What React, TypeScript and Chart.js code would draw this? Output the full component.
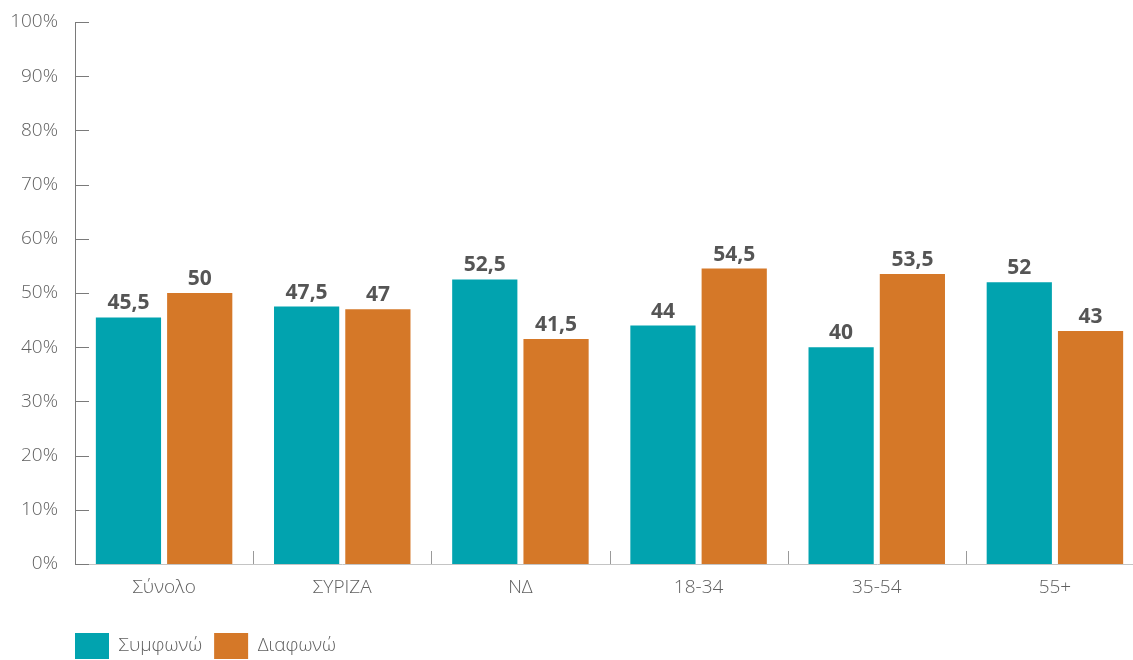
import React, { useEffect, useRef } from "react";
import { Chart, registerables } from "chart.js";

Chart.register(...registerables);

const categories = ["Σύνολο", "ΣΥΡΙΖΑ", "ΝΔ", "18-34", "35-54", "55+"];
const agreeValues = [45.5, 47.5, 52.5, 44, 40, 52];
const disagreeValues = [50, 47, 41.5, 54.5, 53.5, 43];
const seriesNames = ["Συμφωνώ", "Διαφωνώ"];
const yMin = 0;
const yMax = 100;
const yStep = 10;

const FONT = "'Open Sans', 'Noto Sans', sans-serif";
const TEXT = "#5f5f5f";
const TEAL = "#01A3AF";
const ORANGE = "#D57828";

const CANVAS_W = 1160;
const CANVAS_H = 669;

const decorPlugin = {
  id: "decor",
  afterLayout(chart: any) {
    const lg = chart.legend;
    if (lg) {
      const pad = 12;
      const dx = chart.chartArea.left - pad - lg.left;
      lg.left += dx;
      lg.right += dx;
    }
  },
  afterDatasetsDraw(chart: any) {
    const ctx = chart.ctx;
    const area = chart.chartArea;
    const xs = chart.scales.x;
    const ys = chart.scales.y;
    ctx.save();
    ctx.lineWidth = 1;
    ctx.strokeStyle = "#7a7a7a";
    ys.ticks.forEach((_t: any, i: number) => {
      const py = Math.round(ys.getPixelForTick(i)) + 0.5;
      ctx.beginPath();
      ctx.moveTo(area.left, py);
      ctx.lineTo(area.left + 14, py);
      ctx.stroke();
    });
    ctx.strokeStyle = "#9a9a9a";
    for (let i = 1; i < categories.length; i++) {
      const px = Math.round((xs.getPixelForTick(i - 1) + xs.getPixelForTick(i)) / 2) + 0.5;
      ctx.beginPath();
      ctx.moveTo(px, area.bottom);
      ctx.lineTo(px, area.bottom - 13);
      ctx.stroke();
    }
    ctx.fillStyle = "#555555";
    ctx.font = `bold 21px ${FONT}`;
    ctx.textAlign = "center";
    ctx.textBaseline = "alphabetic";
    chart.data.datasets.forEach((ds: any, di: number) => {
      const meta = chart.getDatasetMeta(di);
      meta.data.forEach((bar: any, i: number) => {
        ctx.fillText(String(ds.data[i]).replace(".", ","), bar.x, bar.y - 8);
      });
    });
    ctx.restore();
  },
};

export default function App() {
  const ref = useRef<HTMLCanvasElement | null>(null);
  useEffect(() => {
    if (!ref.current) return;
    const chart = new Chart(ref.current, {
      type: "bar",
      data: {
        labels: categories,
        datasets: [
          { label: seriesNames[0], data: agreeValues, backgroundColor: TEAL, categoryPercentage: 0.8, barPercentage: 0.915 },
          { label: seriesNames[1], data: disagreeValues, backgroundColor: ORANGE, categoryPercentage: 0.8, barPercentage: 0.915 },
        ],
      },
      options: {
        responsive: false,
        animation: false,
        devicePixelRatio: 1,
        layout: { padding: { top: 22, right: CANVAS_W - 1144, left: 0, bottom: 0 } },
        plugins: {
          tooltip: { enabled: false },
          legend: {
            position: "bottom",
            align: "start",
            labels: {
              boxWidth: 34,
              boxHeight: 26,
              padding: 12,
              color: TEXT,
              font: { family: FONT, size: 19, weight: 300 },
            },
          },
        },
        scales: {
          x: {
            grid: { display: false },
            border: { display: true, color: "#c4c4c4", width: 1 },
            ticks: { color: TEXT, font: { family: FONT, size: 19, weight: 300 }, padding: 4 },
            afterFit: (s: any) => {
              s.height = 57;
            },
          },
          y: {
            min: yMin,
            max: yMax,
            grid: { display: false },
            border: { display: true, color: "#7a7a7a", width: 1 },
            ticks: {
              stepSize: yStep,
              color: TEXT,
              padding: 9,
              font: { family: FONT, size: 19, weight: 300 },
              callback: (v: any) => `${v}%`,
            },
            afterFit: (s: any) => {
              s.width = 75;
              s.paddingTop = 0;
              s.paddingBottom = 0;
            },
          },
        },
      },
      plugins: [decorPlugin],
    } as any);
    return () => chart.destroy();
  }, []);
  return (
    <div style={{ position: "fixed", left: 0, top: 0, width: 1133, height: 660, overflow: "hidden", background: "#fff" }}>
      <canvas ref={ref} width={CANVAS_W} height={CANVAS_H} style={{ width: CANVAS_W, height: CANVAS_H, display: "block" }} />
    </div>
  );
}
